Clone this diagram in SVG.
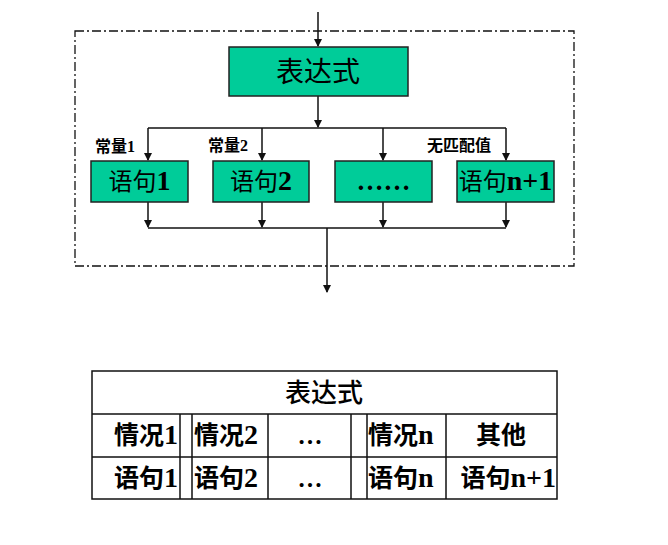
<svg xmlns="http://www.w3.org/2000/svg" width="668" height="545" viewBox="0 0 668 545">
<style>
.box{fill:#00CC99;stroke:#222;stroke-width:1.5}
.ln{stroke:#111;stroke-width:1.5;fill:none}
.t{font-family:"Liberation Serif","Noto Sans CJK SC",serif;fill:#000}
.lab{font-family:"Liberation Serif","Noto Sans CJK SC",serif;font-weight:bold;font-size:16px;fill:#000}
.cell{fill:#fff;stroke:#111;stroke-width:1.5}
.tt{font-family:"Liberation Serif","Noto Sans CJK SC",serif;font-weight:bold;font-size:25px;fill:#000}
.d{font-weight:bold;font-size:28px}
</style>
<defs>
<marker id="ah" markerWidth="8" markerHeight="8" refX="7" refY="4" orient="auto" markerUnits="userSpaceOnUse">
<path d="M0,0 L8,4 L0,8 Z" fill="#111"/>
</marker>
</defs>
<rect width="668" height="545" fill="#fff"/>
<rect id="frame" x="75" y="31" width="499" height="235" fill="none" stroke="#111" stroke-width="1.3" stroke-dasharray="9,3,2,3"/>
<g id="connectors">
<path class="ln" d="M318,12 V46" marker-end="url(#ah)"/>
<path class="ln" d="M318,96 V127" marker-end="url(#ah)"/>
<path class="ln" d="M148,128 H506"/>
<path class="ln" d="M148,128 V160" marker-end="url(#ah)"/>
<path class="ln" d="M262,128 V160" marker-end="url(#ah)"/>
<path class="ln" d="M383,128 V160" marker-end="url(#ah)"/>
<path class="ln" d="M506,128 V160" marker-end="url(#ah)"/>
<path class="ln" d="M148,202 V227" marker-end="url(#ah)"/>
<path class="ln" d="M262,202 V227" marker-end="url(#ah)"/>
<path class="ln" d="M383,202 V227" marker-end="url(#ah)"/>
<path class="ln" d="M506,202 V227" marker-end="url(#ah)"/>
<path class="ln" d="M148,228 H506"/>
<path class="ln" d="M327,228 V292" marker-end="url(#ah)"/>
</g>
<g id="expr">
<rect class="box" x="229" y="47" width="179" height="49"/>
<text class="t" x="318" y="82" font-size="28" text-anchor="middle">表达式</text>
</g>
<g id="s1">
<rect class="box" x="91" y="161" width="97" height="41"/>
<text class="t" x="139.5" y="190" font-size="24" text-anchor="middle">语句<tspan class="d">1</tspan></text>
</g>
<g id="s2">
<rect class="box" x="213" y="161" width="96" height="41"/>
<text class="t" x="261" y="190" font-size="24" text-anchor="middle">语句<tspan class="d">2</tspan></text>
</g>
<g id="s3">
<rect class="box" x="335" y="161" width="97" height="41"/>
<text class="t" x="383.5" y="190" font-size="27" font-weight="bold" text-anchor="middle">……</text>
</g>
<g id="s4">
<rect class="box" x="457" y="161" width="97" height="41"/>
<text class="t" x="505.5" y="190" font-size="24" text-anchor="middle">语句<tspan class="d">n+1</tspan></text>
</g>
<g id="labels">
<text class="lab" x="95" y="152">常量1</text>
<text class="lab" x="208" y="151">常量2</text>
<text class="lab" x="427" y="151">无匹配值</text>
</g>
<g id="table">
<rect class="cell" x="92" y="371" width="465" height="128"/>
<path class="ln" d="M92,414 H557 M92,457 H557 M180,414 V499 M192,414 V499 M268,414 V499 M351,414 V499 M367,414 V499 M446,414 V499"/>
<text class="tt" x="324" y="402" text-anchor="middle" style="font-weight:500;font-size:26px">表达式</text>
<text class="tt" x="178" y="444" text-anchor="end">情况<tspan class="d">1</tspan></text>
<text class="tt" x="194" y="444">情况<tspan class="d">2</tspan></text>
<text class="tt" x="310" y="444" text-anchor="middle">…</text>
<text class="tt" x="368" y="444">情况<tspan class="d">n</tspan></text>
<text class="tt" x="501" y="444" text-anchor="middle">其他</text>
<text class="tt" x="178" y="487" text-anchor="end">语句<tspan class="d">1</tspan></text>
<text class="tt" x="194" y="487">语句<tspan class="d">2</tspan></text>
<text class="tt" x="310" y="487" text-anchor="middle">…</text>
<text class="tt" x="368" y="487">语句<tspan class="d">n</tspan></text>
<text class="tt" x="556" y="487" text-anchor="end">语句<tspan class="d">n+1</tspan></text>
</g>
</svg>
